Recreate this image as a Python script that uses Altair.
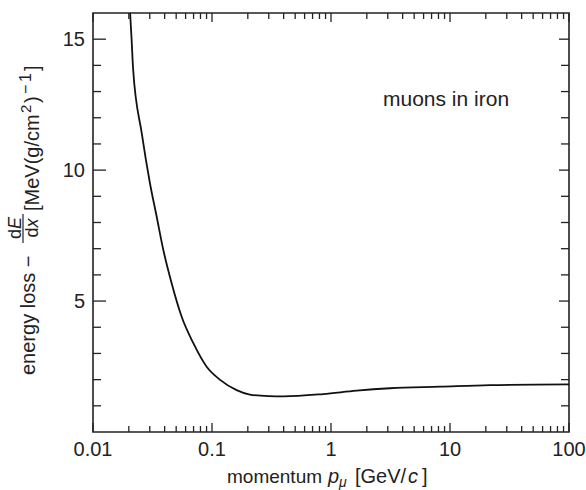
import altair as alt
import pandas as pd

# ---- data ----
momentum = [0.0205, 0.0211, 0.0217, 0.0257, 0.0301, 0.0343, 0.0390, 0.0458, 0.0556,
            0.0697, 0.0902, 0.117, 0.161, 0.208, 0.30, 0.40, 0.86, 1.64, 3.13, 8.24,
            21.7, 100]
energy_loss = [16.0, 15.0, 13.9, 11.4, 9.50, 8.22, 6.95, 5.68, 4.40,
               3.39, 2.49, 1.99, 1.60, 1.43, 1.37, 1.36, 1.45, 1.58, 1.67, 1.73,
               1.79, 1.82]

x_labels = [0.01, 0.1, 1, 10, 100]
x_minor = [0.02, 0.03, 0.04, 0.05, 0.06, 0.07, 0.08, 0.09,
           0.2, 0.3, 0.4, 0.5, 0.6, 0.7, 0.8, 0.9,
           2, 3, 4, 5, 6, 7, 8, 9,
           20, 30, 40, 50, 60, 70, 80, 90]
y_labels = [5, 10, 15]
y_minor = [1, 2, 3, 4, 6, 7, 8, 9, 11, 12, 13, 14]

W, H = 476, 419
FONT = "Liberation Sans"
INK = "#222222"

curve = pd.DataFrame({"p": momentum, "dedx": energy_loss})
xscale = alt.Scale(type="log", domain=[0.01, 100], nice=False)
yscale = alt.Scale(domain=[0, 16], nice=False, zero=False)

line = alt.Chart(curve).mark_line(color="#111111", strokeWidth=1.8, interpolate="monotone").encode(
    x=alt.X("p:Q", scale=xscale, axis=None),
    y=alt.Y("dedx:Q", scale=yscale, axis=None),
)

def xticks(vals, length):
    df = pd.DataFrame({"v": vals})
    base = alt.Chart(df).mark_rule(color=INK, strokeWidth=1.3)
    bottom = base.encode(x=alt.X("v:Q", scale=xscale, axis=None),
                         y=alt.value(H), y2=alt.value(H - length))
    top = base.encode(x=alt.X("v:Q", scale=xscale, axis=None),
                      y=alt.value(0), y2=alt.value(length))
    return [bottom, top]

def yticks(vals, left_len, right_len):
    df = pd.DataFrame({"v": vals})
    base = alt.Chart(df).mark_rule(color=INK, strokeWidth=1.3)
    left = base.encode(y=alt.Y("v:Q", scale=yscale, axis=None),
                       x=alt.value(0), x2=alt.value(left_len))
    right = base.encode(y=alt.Y("v:Q", scale=yscale, axis=None),
                        x=alt.value(W), x2=alt.value(W - right_len))
    return [left, right]

xlab_df = pd.DataFrame({"v": x_labels, "t": ["0.01", "0.1", "1", "10", "100"]})
ylab_df = pd.DataFrame({"v": y_labels, "t": ["5", "10", "15"]})
xlabels = alt.Chart(xlab_df).mark_text(font=FONT, fontSize=20, color=INK, align="center",
                                       baseline="alphabetic").encode(
    x=alt.X("v:Q", scale=xscale, axis=None), y=alt.value(H + 24), text="t:N")
ylabels = alt.Chart(ylab_df).mark_text(font=FONT, fontSize=20, color=INK, align="right",
                                       baseline="middle", dy=1).encode(
    y=alt.Y("v:Q", scale=yscale, axis=None), x=alt.value(-8), text="t:N")

one = pd.DataFrame({"a": [0]})

def txt(s, x, y, size=20, angle=0, italic=False):
    kw = dict(text=s, font=FONT, fontSize=size, color=INK, align="left",
              baseline="alphabetic")
    if angle:
        kw["angle"] = angle
    if italic:
        kw["fontStyle"] = "italic"
    return alt.Chart(one).mark_text(**kw).encode(x=alt.value(x), y=alt.value(y))

texts = [
    txt("muons in iron", 290, 93, size=21),
    txt("momentum", 134, 470, size=19),
    txt("p", 235, 470, italic=True),
    txt("μ", 246, 474, size=14, italic=True),
    txt("[GeV/", 262, 470),
    txt("c", 315, 470, italic=True),
    txt("]", 329, 470),
    txt("energy loss −", -58, 362, angle=270),
    txt("d", -72.5, 226, size=18, angle=270),
    txt("E", -72.5, 216, size=18, angle=270, italic=True),
    txt("d", -55, 224.5, size=18, angle=270),
    txt("x", -55, 214.5, size=18, angle=270, italic=True),
    txt("[MeV(g/cm", -54, 198, size=20, angle=270),
    txt("2", -62, 100, size=15, angle=270),
    txt(")", -54, 90, size=20, angle=270),
    txt("−", -62, 81, size=16, angle=270),
    txt("1", -62, 69, size=16, angle=270),
    txt("]", -54, 58, size=20, angle=270),
]

frac_bar = alt.Chart(one).mark_rule(color=INK, strokeWidth=1.2).encode(
    x=alt.value(-70), y=alt.value(201), y2=alt.value(230))

layers = [line] + xticks(x_labels, 9) + xticks(x_minor, 6) + yticks(y_labels, 13, 10) \
    + yticks(y_minor, 8, 8) + [xlabels, ylabels] + texts + [frac_bar]

chart = alt.layer(*layers).properties(
    width=W, height=H,
    autosize=alt.AutoSizeParams(type="none"),
    padding={"left": 93, "top": 13, "right": 17, "bottom": 58},
    background="white",
).configure_view(stroke=INK, strokeWidth=1.6)

chart.save("out.html", embed_options={"renderer": "svg", "actions": False})
